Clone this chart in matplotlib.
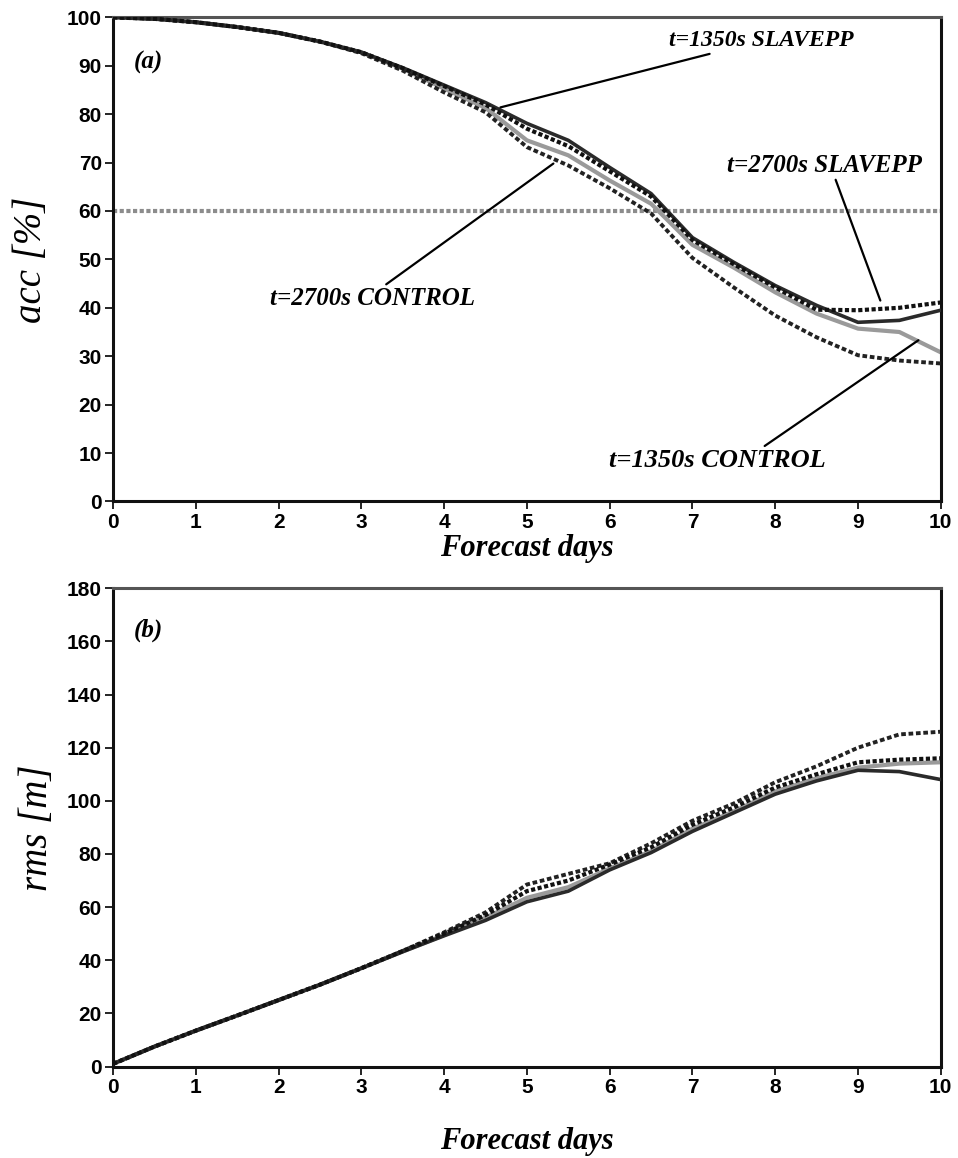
import matplotlib
matplotlib.use("Agg")
import matplotlib.pyplot as plt

days = [0, 0.5, 1, 1.5, 2, 2.5, 3, 3.5, 4, 4.5, 5, 5.5, 6, 6.5, 7, 7.5, 8, 8.5, 9, 9.5, 10]

acc_1350_slavepp = [100, 99.7, 99.0, 98.0, 96.8, 95.0, 92.8, 89.6, 86.0, 82.4, 78.1, 74.6, 69.0, 63.6, 54.5, 49.4, 44.6, 40.5, 37.0, 37.4, 39.5]
acc_2700_slavepp = [100, 99.7, 99.0, 98.0, 96.8, 95.0, 92.8, 89.5, 85.8, 82.0, 77.0, 73.4, 68.2, 63.0, 54.0, 49.0, 44.2, 39.6, 39.5, 40.0, 41.1]
acc_1350_control = [100, 99.7, 99.0, 98.0, 96.8, 95.0, 92.8, 89.4, 85.3, 81.3, 74.6, 71.5, 66.3, 61.5, 53.0, 48.3, 43.2, 38.8, 35.7, 35.0, 30.8]
acc_2700_control = [100, 99.7, 99.0, 98.0, 96.8, 95.0, 92.6, 89.0, 84.5, 80.4, 73.2, 69.4, 64.7, 59.5, 50.3, 44.2, 38.4, 33.9, 30.2, 29.1, 28.5]
acc_threshold = 60

rms_1350_slavepp = [1, 7.5, 13.5, 19.2, 25, 30.8, 37, 43.2, 49.2, 55, 62, 66, 74, 80.5, 88.5, 95.5, 102.5, 107.5, 111.5, 111, 108]
rms_2700_slavepp = [1, 7.5, 13.5, 19.2, 25, 30.8, 37, 43.5, 50, 57, 66, 70, 76, 82.5, 91, 97.5, 105, 110, 114.5, 115.5, 116]
rms_1350_control = [1, 7.5, 13.5, 19.2, 25, 30.8, 37, 43.3, 49.5, 56, 63.5, 67.5, 74.5, 81, 89.5, 96, 103.5, 108.5, 112.5, 114, 114.5]
rms_2700_control = [1, 7.5, 13.5, 19.2, 25, 30.8, 37, 43.5, 50.5, 58, 68.5, 72.5, 76.5, 84, 92.5, 99, 107, 113, 120, 125, 126]

x_ticks = list(range(0, 11))
acc_ticks = list(range(0, 101, 10))
rms_ticks = list(range(0, 181, 20))

SERIF = "Liberation Serif"
SANS = "Liberation Sans"

fig = plt.figure(figsize=(9.58, 11.58), dpi=100)
ax1 = fig.add_axes([0.118, 0.567, 0.864, 0.418])
ax2 = fig.add_axes([0.118, 0.079, 0.864, 0.413])

styles = {
    "dark": dict(color="#2a2a2a", lw=2.6, ls="-"),
    "cross_hi": dict(color="#111111", lw=3.0, ls=(0, (1, 0.6))),
    "gray": dict(color="#9a9a9a", lw=3.0, ls="-"),
    "cross_lo": dict(color="#222222", lw=2.8, ls=(0, (1.2, 0.7))),
}

ax1.axhline(acc_threshold, color="#8c8c8c", lw=3.0, ls=(0, (1, 0.6)), zorder=1)
ax1.plot(days, acc_1350_control, **styles["gray"], zorder=2)
ax1.plot(days, acc_2700_control, **styles["cross_lo"], zorder=3)
ax1.plot(days, acc_1350_slavepp, **styles["dark"], zorder=3)
ax1.plot(days, acc_2700_slavepp, **styles["cross_hi"], zorder=4)

ax2.plot(days, rms_1350_control, **styles["gray"], zorder=2)
ax2.plot(days, rms_2700_control, **styles["cross_lo"], zorder=3)
ax2.plot(days, rms_1350_slavepp, **styles["dark"], zorder=3)
ax2.plot(days, rms_2700_slavepp, **styles["cross_hi"], zorder=4)

for ax, yt, ymax in ((ax1, acc_ticks, 100), (ax2, rms_ticks, 180)):
    ax.set_xlim(0, 10)
    ax.set_ylim(0, ymax)
    ax.set_xticks(x_ticks)
    ax.set_yticks(yt)
    ax.tick_params(direction="out", length=6, width=1.2, labelsize=15, pad=2)
    for lbl in ax.get_xticklabels() + ax.get_yticklabels():
        lbl.set_fontfamily(SANS)
        lbl.set_fontweight("bold")
    for sp in ax.spines.values():
        sp.set_linewidth(2.2)
        sp.set_color("#111111")
    ax.spines["top"].set_color("#555555")

lab_font = dict(family=SERIF, style="italic", fontweight="bold", fontsize=22)
ax1.set_xlabel("Forecast days", labelpad=2, **lab_font)
ax2.set_xlabel("Forecast days", labelpad=22, **lab_font)
ax1.set_ylabel("acc [%]", family=SERIF, style="italic", fontsize=28, labelpad=12)
ax2.set_ylabel("rms [m]", family=SERIF, style="italic", fontsize=28, labelpad=8)

ax1.text(0.25, 90.7, "(a)", family=SERIF, style="italic", fontweight="bold", fontsize=18, va="center")
ax2.text(0.25, 164, "(b)", family=SERIF, style="italic", fontweight="bold", fontsize=18, va="center")

ann = dict(family=SERIF, style="italic", fontweight="bold")
arrow = dict(arrowstyle="-", color="black", lw=1.6, shrinkA=0, shrinkB=0)
ax1.annotate("t=1350s SLAVEPP", xy=(4.68, 81.4), xytext=(6.72, 95.2),
             ha="left", va="center", fontsize=17, arrowprops=arrow, **ann)
ax1.annotate("t=2700s SLAVEPP", xy=(9.27, 41.5), xytext=(8.6, 69.4),
             ha="center", va="center", fontsize=18, arrowprops=dict(arrow, relpos=(0.55, 0.0)), **ann)
ax1.annotate("t=2700s CONTROL", xy=(5.32, 69.8), xytext=(3.13, 41.9),
             ha="center", va="center", fontsize=18, arrowprops=dict(arrow, relpos=(0.55, 1.0)), **ann)
ax1.annotate("t=1350s CONTROL", xy=(9.73, 33.3), xytext=(7.3, 8.5),
             ha="center", va="center", fontsize=19, arrowprops=dict(arrow, relpos=(0.7, 1.0)), **ann)

fig.savefig("out.png", dpi=100, facecolor="white")
